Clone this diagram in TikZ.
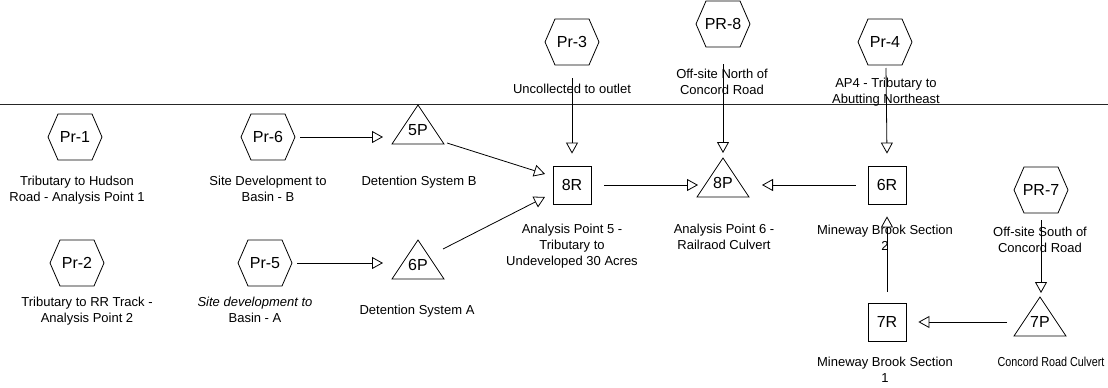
\documentclass[tikz,border=0pt]{standalone}
\usepackage{fontspec}
\setmainfont{Liberation Sans}
\usetikzlibrary{arrows.meta,calc}
\begin{document}
\begin{tikzpicture}[x=1pt,y=-1pt,
  lbl/.style={align=center,inner sep=0pt,anchor=north,font=\fontsize{13}{16}\selectfont},
  sym/.style={inner sep=0pt,font=\fontsize{16}{18}\selectfont},
  reach/.style={sym,draw,minimum size=38pt,line width=0.8pt},
  outline/.style={line width=0.8pt,line join=miter},
  flow/.style={line width=0.8pt,-{Triangle[open,length=11pt,width=12pt]}},
  sep/.style={line width=0.7pt,black!85},
]
\useasboundingbox (0,0) rectangle (1108,388);

% dividing line
\coordinate (sepL) at (0,104);
\coordinate (sepR) at (1108,104);
\draw[sep] (sepL) -- (sepR);

% subcatchments (hexagons)
\node[sym] (pr1) at (75,137) {Pr-1};
\node[sym] (pr6) at (268,137) {Pr-6};
\node[sym] (pr2) at (77,263) {Pr-2};
\node[sym] (pr5) at (265,263) {Pr-5};
\node[sym] (pr3) at (572,42) {Pr-3};
\node[sym] (pr8) at (723,24) {PR-8};
\node[sym] (pr4) at (885,42) {Pr-4};
\node[sym] (pr7) at (1041,190) {PR-7};
\foreach \n in {pr1,pr6,pr2,pr5,pr3,pr8,pr4,pr7}{
  \draw[outline] ($(\n)+(-27,0)$) -- ($(\n)+(-17,-23)$) -- ($(\n)+(17,-23)$)
    -- ($(\n)+(27,0)$) -- ($(\n)+(17,23)$) -- ($(\n)+(-17,23)$) -- cycle;
}

% ponds (triangles)
\node[sym] (p5) at (418,130) {5P};
\node[sym] (p6) at (418,265) {6P};
\node[sym] (p8) at (723,183) {8P};
\node[sym] (p7) at (1040,322) {7P};
\foreach \n in {p5,p6,p8,p7}{
  \draw[outline] ($(\n)+(0,-25)$) -- ($(\n)+(26,14)$) -- ($(\n)+(-26,14)$) -- cycle;
}

% reaches (squares)
\node[reach] (r8) at (572,185) {8R};
\node[reach] (r6) at (887,185) {6R};
\node[reach] (r7) at (887,322) {7R};

% labels
\node[lbl] (lpr1) at (77,175.5) {Tributary to Hudson\\Road - Analysis Point 1};
\node[lbl] (lpr6) at (268,175.5) {Site Development to\\Basin - B};
\node[lbl] (lp5) at (419,175.5) {Detention System B};
\node[lbl] (lpr2) at (87,296.5) {Tributary to RR Track -\\Analysis Point 2};
\node[lbl] (lpr5) at (255,296.5) {\itshape Site development to\\Basin - A};
\node[lbl] (lp6) at (417,304.5) {Detention System A};
\node[lbl] (lpr3) at (572,83.5) {Uncollected to outlet};
\node[lbl] (lpr8) at (722,68.5) {Off-site North of\\Concord Road};
\node[lbl] (lpr4) at (886,77.5) {AP4 - Tributary to\\Abutting Northeast};
\node[lbl] (lr8) at (572,223.5) {Analysis Point 5 -\\Tributary to\\Undeveloped 30 Acres};
\node[lbl] (lp8) at (724,223.5) {Analysis Point 6 -\\Railraod Culvert};
\node[lbl] (lr6) at (885,224.5) {Mineway Brook Section\\2};
\node[lbl] (lpr7) at (1040,226.5) {Off-site South of\\Concord Road};
\node[lbl] (lr7) at (885,356.5) {Mineway Brook Section\\1};
\node[lbl] (lp7) at (1051,356.5) {\scalebox{0.83}[1]{Concord Road Culvert}};

% flow connections
\draw[flow] ($(pr6)+(32,0)$) -- ($(p5)+(-35,7)$);
\draw[flow] ($(pr5)+(32,0)$) -- ($(p6)+(-35,-2)$);
\draw[flow] ($(p5)+(29,13)$) -- ($(r8)+(-27,-11)$);
\draw[flow] ($(p6)+(25,-16)$) -- ($(r8)+(-27,12)$);
\draw[flow] ($(pr3)+(0,36)$) -- ([yshift=12pt]r8.north);
\draw[flow] ([xshift=13pt]r8.east) -- ([xshift=-25pt]p8.center |- r8.center);
\draw[flow] ($(pr8)+(0,40)$) -- ($(p8)+(0,-30)$);
\draw[flow] ($(pr4)+(1,26)$) -- ([yshift=12pt]r6.north);
\draw[flow] ([xshift=-12pt]r6.west) -- ([xshift=39pt]p8.center |- r6.center);
\draw[flow] ([yshift=11pt]r7.north) -- ([yshift=-12pt]r6.south);
\draw[flow] ($(pr7)+(0,30)$) -- ($(p7)+(1,-29)$);
\draw[flow] ([xshift=-33pt]p7.center |- r7.center) -- ([xshift=12pt]r7.east);
\end{tikzpicture}
\end{document}
